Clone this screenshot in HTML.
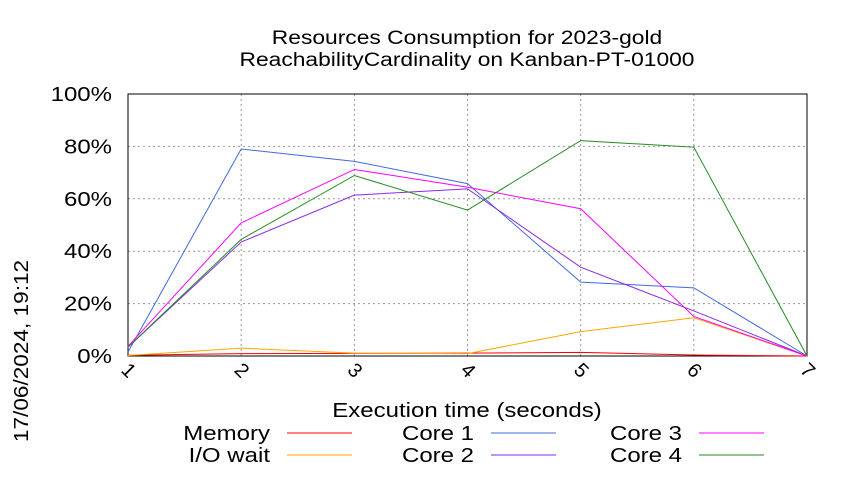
<!DOCTYPE html>
<html><head><meta charset="utf-8"><style>
body{margin:0;background:#fff;}
svg{font-family:"Liberation Sans",sans-serif;}
</style></head><body>
<svg id="chart" width="850" height="475" xmlns="http://www.w3.org/2000/svg">
<text class="st" x="467" y="44" font-size="19" text-anchor="middle">Resources Consumption for 2023-gold</text>
<text class="st" x="467" y="66" font-size="19" text-anchor="middle">ReachabilityCardinality on Kanban-PT-01000</text>
<text id="ts" transform="translate(28,351) rotate(-90)" font-size="20" text-anchor="middle">17/06/2024, 19:12</text>
<text class="st" x="467" y="417" font-size="20" text-anchor="middle">Execution time (seconds)</text>
<g id="grid"></g><g id="series"></g><g id="legend"></g>
</svg>
<script>
const xTicks=[1,2,3,4,5,6,7];
const yTicks=[0,20,40,60,80,100];
const yTickLabels=["0%","20%","40%","60%","80%","100%"];
const seriesNames=["Memory","I/O wait","Core 1","Core 2","Core 3","Core 4"];
const seriesColors=["#ff0000","#ffa500","#4169e1","#8a2be2","#ff00ff","#228b22"];
const memory=[0.3,0.9,1.0,1.1,1.4,0.4,0];
const ioWait=[0.2,3.0,1.1,0.9,9.3,14.6,0];
const core1=[1.5,79,74.3,65.8,28.2,26,0];
const core2=[3.4,43.5,61.4,63.8,33.9,17.2,0];
const core3=[3.7,50.8,71.2,64.4,56.2,15.1,0];
const core4=[3.4,44.5,68.9,55.7,82.2,79.7,0];
const allSeries=[memory,ioWait,core1,core2,core3,core4];
const NS="http://www.w3.org/2000/svg";
const X0=128,X1=807,Y0=356,Y1=94;
function xs(v){return X0+(v-1)/6*(X1-X0);}
function ys(v){return Y0-v/100*(Y0-Y1);}
function mk(tag,attrs,parent){const e=document.createElementNS(NS,tag);for(const k in attrs)e.setAttribute(k,attrs[k]);parent.appendChild(e);return e;}
const g=document.getElementById('grid');
yTicks.forEach((t,i)=>{
 const l=mk('line',{x1:X0,x2:X1,y1:ys(t),y2:ys(t),stroke:'#999','stroke-dasharray':'2,3','stroke-width':1},g);
 
 
 const tx=mk('text',{x:X0-16,y:ys(t)+7,'font-size':20,'text-anchor':'end',class:'st'},g);
 tx.textContent=yTickLabels[i];
 
 
});
xTicks.forEach(t=>{
 const l=mk('line',{x1:xs(t),x2:xs(t),y1:Y0,y2:Y1,stroke:'#999','stroke-dasharray':'2,3','stroke-width':1},g);
 
 
 const tx=mk('text',{transform:`translate(${xs(t)-4},${Y0+19}) rotate(45)`,'font-size':20,'text-anchor':'middle'},g);
 tx.textContent=t;
 
 
});
const frame=mk('rect',{x:X0,y:Y1,width:X1-X0,height:Y0-Y1,fill:'none',stroke:'#000','stroke-width':1},g);


const sg=document.getElementById('series');
allSeries.forEach((d,i)=>{
 const p=mk('polyline',{points:d.map((v,j)=>xs(xTicks[j])+','+ys(v)).join(' '),fill:'none',stroke:seriesColors[i],'stroke-width':1},sg);
 
 
});
const lg=document.getElementById('legend');
const colX=[270,474,682],rowY=[433,455];
seriesNames.forEach((name,k)=>{
 const c=Math.floor(k/2),r=k%2;
 const t=mk('text',{x:colX[c],y:rowY[r]+7,'font-size':20,'text-anchor':'end',class:'st'},lg);
 t.textContent=name;
 
 
 const l=mk('line',{x1:colX[c]+17,x2:colX[c]+82,y1:rowY[r],y2:rowY[r],stroke:seriesColors[k],'stroke-width':1},lg);
 
 
});
document.querySelectorAll('text.st').forEach(t=>{
 const w=t.getComputedTextLength();
 t.setAttribute('textLength',(w*1.2).toFixed(1));
 t.setAttribute('lengthAdjust','spacingAndGlyphs');
});
const ts=document.getElementById('ts');
ts.setAttribute('textLength',(ts.getComputedTextLength()*1.13).toFixed(1));
ts.setAttribute('lengthAdjust','spacingAndGlyphs');
</script>
</body></html>
